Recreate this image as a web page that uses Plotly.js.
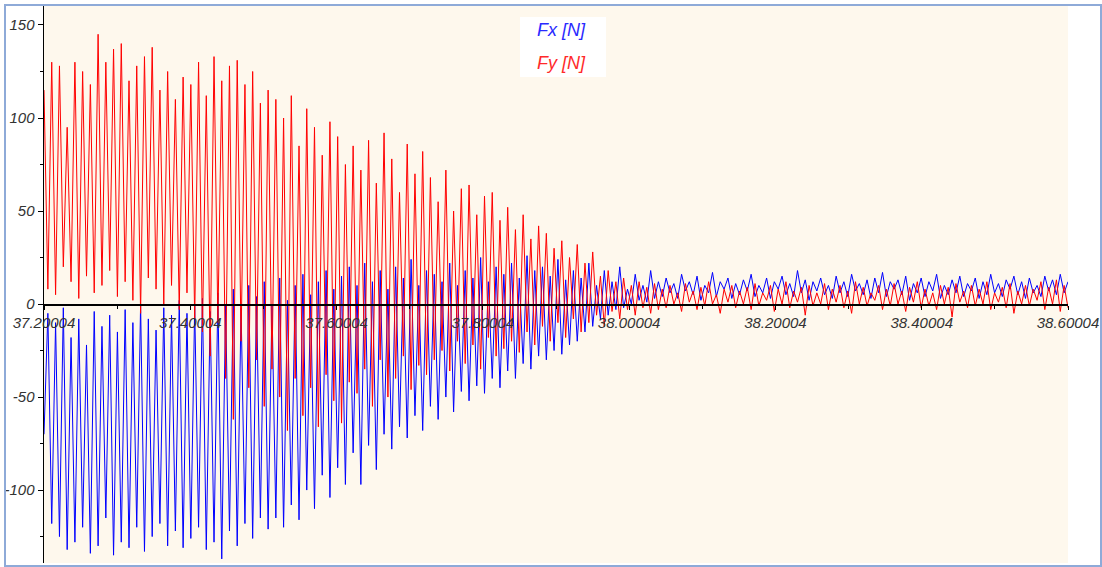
<!DOCTYPE html>
<html><head><meta charset="utf-8">
<script src="https://cdn.plot.ly/plotly-3.0.1.min.js"></script>
<style>
html,body{margin:0;padding:0;background:#fff;}
#wrap{position:relative;width:1102px;height:567px;overflow:hidden;}
#chart{position:absolute;left:0;top:0;width:1102px;height:567px;}
#frame{position:absolute;left:4px;top:4px;width:1094px;height:559px;border:2px solid #8eaad8;pointer-events:none;}
</style></head><body>
<div id="wrap"><div id="chart"></div><div id="frame"></div></div>
<script>
// time window of the recording (s)
const tStart = 37.20004;
const tEnd = 38.60004;
const xTickVals = [37.20004, 37.40004, 37.60004, 37.80004, 38.00004, 38.20004, 38.40004, 38.60004];
const xTickText = ["37.20004", "37.40004", "37.60004", "37.80004", "38.00004", "38.20004", "38.40004", "38.60004"];
const yTickVals = [-100, -50, 0, 50, 100, 150];
const yTickText = ["-100", "-50", "0", "50", "100", "150"];

// Fx [N] samples (alternating trough / crest)
const fx = [
  -70,-5,-118,-10,-125,-2,-132,-18,-128,-8,-120,-22,-134,-4,-130,-12,-115,-6,-135,-15,
  -128,-3,-131,-10,-120,0,-133,-8,-125,-14,-118,-2,-130,-6,-122,2,-131,-5,-126,-1,
  -120,3,-132,-4,-128,6,-137,0,-122,8,-130,-2,-118,10,-126,4,-115,12,-121,0,
  -115,14,-120,2,-108,10,-116,16,-100,5,-110,12,-92,18,-104,8,-88,15,-97,20,
  -80,10,-97,22,-76,12,-89,18,-70,8,-78,20,-66,14,-72,24,-60,10,-68,18,
  -55,16,-62,12,-50,22,-58,10,-47,18,-52,14,-44,25,-48,12,-40,20,-45,16,
  -36,22,-40,14,-32,26,-35,18,-28,20,-30,15,-25,24,-27,13,-22,18,-20,14,
  -15,22,-12,10,-8,18,-6,12,-3,20,-2,8,0,16,2,10,1,18,3,12,
  4,14,6,11,3,16,7,12,5,15,2,10,6,17,4,12,8,14,3,11,
  5,13,7,16,4,10,6,14,3,12,8,15,5,11,4,18,6,13,2,12,
  7,14,5,10,3,15,6,12,4,16,7,11,5,13,3,14,6,17,4,12,
  8,13,5,15,2,11,6,14,4,12,7,16,3,10,5,13,6,15,4,11,
  7,14,3,12,5,16,6,11,4,13,8,15,5,12,3,14,6,10,4,15,7,13,5,16,6,12
];

// Fy [N] samples (alternating crest / trough)
const fy = [
  115,8,130,5,128,20,95,12,130,3,125,15,118,6,145,10,130,18,137,4,
  140,12,120,2,128,-5,133,14,138,8,115,0,125,10,110,-3,122,6,118,-8,
  130,-15,112,-28,133,-10,120,-40,128,-62,131,-20,118,-45,125,-30,108,-55,115,-35,
  110,-50,100,-68,112,-40,85,-60,105,-45,95,-66,80,-38,98,-52,90,-64,75,-42,
  85,-48,72,-35,88,-55,65,-30,92,-50,78,-40,60,-28,86,-46,70,-33,82,-38,
  68,-30,55,-25,72,-36,50,-20,62,-32,64,-22,48,-35,58,-18,60,-28,45,-24,
  52,-20,40,-26,48,-15,35,-22,42,-12,38,-20,30,-10,34,-18,25,-8,32,-15,
  22,-10,28,-6,15,-12,18,-4,12,-8,14,-3,10,-6,12,-2,9,-5,11,-3,
  8,-2,10,0,6,-4,11,1,7,-3,9,-1,12,0,5,-5,8,1,10,-2,
  7,0,9,-3,11,-1,6,2,10,-4,8,0,12,-2,7,1,9,-6,10,-1,
  6,0,11,-3,8,1,10,-2,7,-5,12,0,9,-1,6,2,10,-3,8,-1,
  11,0,7,-4,9,1,12,-2,8,-1,6,-3,10,0,9,-7,11,1,7,-2,
  10,-1,8,0,12,-3,6,1,9,-2,11,-5,7,0,10,-1,8,2,12,-3,9,0,13,-4,10,-2
];

// uniform sampling clock
function sampleTimes(n) {
  const dt = (tEnd - tStart) / (n - 1);
  const out = [];
  for (let i = 0; i < n; i++) out.push(tStart + i * dt);
  return out;
}

const FONT = "Liberation Sans, Arial, sans-serif";
const xTickFont = {family: FONT, size: 15, color: "#333333", style: "italic"};
const yTickFont = {family: FONT, size: 15, color: "#333333", style: "italic"};

const traces = [
  {x: sampleTimes(fx.length), y: fx, type: "scatter", mode: "lines", name: "Fx [N]",
   line: {color: "#0000ff", width: 1}, showlegend: false},
  {x: sampleTimes(fy.length), y: fy, type: "scatter", mode: "lines", name: "Fy [N]",
   line: {color: "#ff0000", width: 1}, showlegend: false}
];

const L = 44, R = 1068, T = 6, B = 563;
const W = R - L, H = B - T;
const px = v => (v - L) / W;
const py = v => (B - v) / H;
const yMin = -139.2, yMax = 160.2;

const layout = {
  width: 1102, height: 567,
  margin: {l: L, r: 1102 - R, t: T, b: 567 - B, pad: 0},
  paper_bgcolor: "#ffffff",
  plot_bgcolor: "#fef8ed",
  hovermode: false,
  showlegend: false,
  xaxis: {
    range: [tStart, tEnd],
    anchor: "free", position: (0 - yMin) / (yMax - yMin),
    showline: true, linecolor: "#000000", linewidth: 1.5,
    showgrid: false, zeroline: false,
    tickmode: "array", tickvals: xTickVals, ticktext: xTickText,
    ticks: "outside", ticklen: 4, tickcolor: "#000000", tickwidth: 1,
    minor: {dtick: 0.1, tick0: tStart, ticks: "outside", ticklen: 3, tickcolor: "#000000", showgrid: false},
    tickfont: xTickFont, automargin: false
  },
  yaxis: {
    range: [yMin, yMax],
    showline: true, linecolor: "#000000", linewidth: 1.5,
    showgrid: false, zeroline: false,
    tickmode: "array", tickvals: yTickVals, ticktext: yTickText,
    ticks: "outside", ticklen: 5, tickcolor: "#000000", tickwidth: 1,
    minor: {dtick: 25, tick0: 0, ticks: "outside", ticklen: 3, tickcolor: "#000000", showgrid: false},
    tickfont: yTickFont, automargin: false
  },
  shapes: [
    {type: "rect", xref: "paper", yref: "paper", x0: px(520), x1: px(606), y0: py(77), y1: py(17),
     fillcolor: "#ffffff", line: {width: 0}, layer: "above"}
  ],
  annotations: [
    {xref: "paper", yref: "paper", x: px(535), y: py(30), xanchor: "left", yanchor: "middle",
     text: "Fx [N]", showarrow: false, font: {family: FONT, size: 18, color: "#2a2aff", style: "italic"}},
    {xref: "paper", yref: "paper", x: px(535), y: py(63), xanchor: "left", yanchor: "middle",
     text: "Fy [N]", showarrow: false, font: {family: FONT, size: 18, color: "#ff2a2a", style: "italic"}}
  ]
};

Plotly.newPlot("chart", traces, layout, {staticPlot: true, displayModeBar: false});
</script>
</body></html>
